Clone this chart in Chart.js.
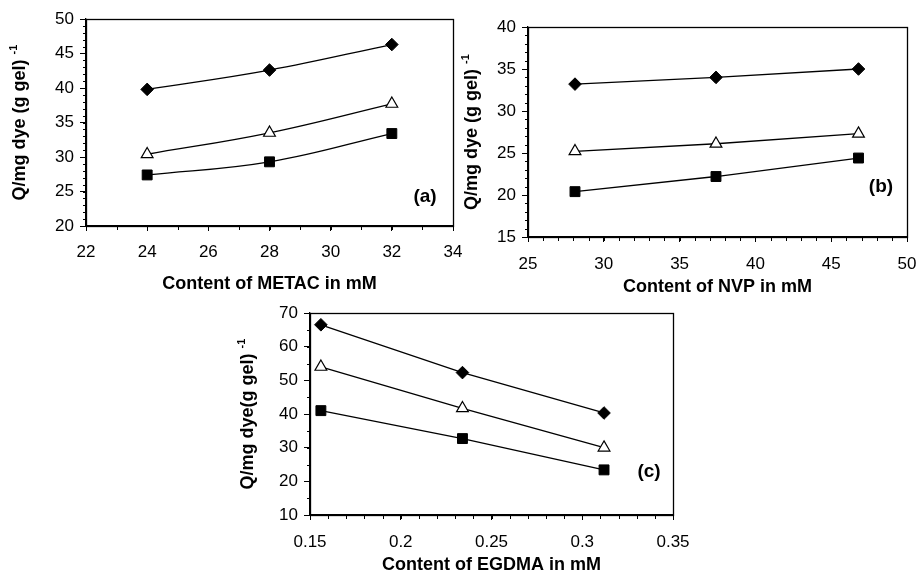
<!DOCTYPE html>
<html><head><meta charset="utf-8">
<script src="https://cdn.jsdelivr.net/npm/chart.js@4.4.1/dist/chart.umd.min.js"></script>
<style>
html,body{margin:0;padding:0;background:#fff;width:919px;height:572px;overflow:hidden;position:relative}
canvas{position:absolute}
</style></head><body>
<canvas id="ca" width="475" height="295" style="left:0;top:0"></canvas>
<canvas id="cb" width="490" height="295" style="left:460px;top:0"></canvas>
<canvas id="cc" width="545" height="282" style="left:180px;top:290px"></canvas>
<script>
// ---- data ----
const metacX = [24, 28, 32];
const metacDiamond = [39.8, 42.6, 46.3];
const metacTriangle = [30.4, 33.5, 37.7];
const metacSquare = [27.4, 29.3, 33.4];

const nvpX = [28.1, 37.4, 46.8];
const nvpDiamond = [33.2, 34.0, 35.0];
const nvpTriangle = [25.2, 26.1, 27.3];
const nvpSquare = [20.4, 22.2, 24.4];

const egdmaX = [0.156, 0.234, 0.312];
const egdmaDiamond = [66.5, 52.3, 40.3];
const egdmaTriangle = [54.0, 41.7, 30.0];
const egdmaSquare = [41.0, 32.7, 23.4];

// tick labels
const xTicksA = [22, 24, 26, 28, 30, 32, 34];
const yTicksA = [20, 25, 30, 35, 40, 45, 50];
const xTicksB = [25, 30, 35, 40, 45, 50];
const yTicksB = [15, 20, 25, 30, 35, 40];
const xTicksC = [0.15, 0.2, 0.25, 0.3, 0.35];
const yTicksC = [10, 20, 30, 40, 50, 60, 70];
// minor tick steps
const minorA = {x: 1, y: 1};
const minorB = {x: 1, y: 1};
const minorC = {x: 0.01, y: 5};

const FONT = '"Liberation Sans", Arial, Helvetica, sans-serif';

function pts(xs, ys) { return xs.map((x, i) => ({x: x, y: ys[i]})); }

function datasets(xs, d, t, s, tension) {
  const base = {borderColor: '#000', borderWidth: 1.3, tension: tension, showLine: true, fill: false};
  return [
    Object.assign({}, base, {data: pts(xs, d), pointStyle: 'rectRot', pointRadius: 6.3, pointBackgroundColor: '#000', pointBorderColor: '#000', pointBorderWidth: 1}),
    Object.assign({}, base, {data: pts(xs, t), pointStyle: 'triangle', pointRadius: 6.8, pointBackgroundColor: '#fff', pointBorderColor: '#000', pointBorderWidth: 1.2}),
    Object.assign({}, base, {data: pts(xs, s), pointStyle: 'rect', pointRadius: 7, pointBackgroundColor: '#000', pointBorderColor: '#000', pointBorderWidth: 1})
  ];
}

function fmt(v) { return String(Number(v.toFixed(4))); }

function panelPlugin(p) {
  return {
    id: 'panelDeco',
    afterDraw(chart) {
      const ctx = chart.ctx, a = chart.chartArea, xs = chart.scales.x, ys = chart.scales.y;
      ctx.save();
      ctx.strokeStyle = '#000';
      ctx.lineWidth = 1.3;
      const L = Math.round(a.left) + 0.5, R = Math.round(a.right) + 0.5, T = Math.round(a.top) + 0.5, B = Math.round(a.bottom) + 0.5;
      ctx.strokeRect(L, T, R - L, B - T);
      // minor ticks
      ctx.lineWidth = 1;
      ctx.beginPath();
      for (let v = xs.min; v <= xs.max + 1e-9; v += p.minor.x) {
        const px = Math.round(xs.getPixelForValue(v)) + 0.5;
        ctx.moveTo(px, B); ctx.lineTo(px, B + 3.5);
      }
      for (let v = ys.min; v <= ys.max + 1e-9; v += p.minor.y) {
        const py = Math.round(ys.getPixelForValue(v)) + 0.5;
        ctx.moveTo(L, py); ctx.lineTo(L - 3.5, py);
      }
      ctx.stroke();
      ctx.fillStyle = '#000';
      // x title
      ctx.font = 'bold 18px ' + FONT;
      ctx.textAlign = 'center';
      ctx.textBaseline = 'middle';
      ctx.fillText(p.xTitle, (a.left + a.right) / 2, a.bottom + p.xTitleOff);
      // y title (rotated, with superscript)
      ctx.save();
      ctx.translate(p.yTitleX, (a.top + a.bottom) / 2);
      ctx.rotate(-Math.PI / 2);
      ctx.font = 'bold 18px ' + FONT;
      const w1 = ctx.measureText(p.yTitle).width;
      ctx.font = 'bold 11px ' + FONT;
      const w2 = ctx.measureText(p.ySup).width;
      const start = -(w1 + w2) / 2;
      ctx.textAlign = 'left';
      ctx.font = 'bold 18px ' + FONT;
      ctx.fillText(p.yTitle, start, 0);
      ctx.font = 'bold 11px ' + FONT;
      ctx.fillText(p.ySup, start + w1, -6);
      ctx.restore();
      // panel label
      ctx.font = 'bold 19px ' + FONT;
      ctx.textAlign = 'center';
      ctx.fillText(p.label, a.right - p.labelDx, p.labelY);
      ctx.restore();
    }
  };
}

function makeChart(id, p) {
  new Chart(document.getElementById(id), {
    type: 'scatter',
    data: {datasets: p.datasets},
    options: {
      responsive: false,
      animation: false,
      events: [],
      layout: {padding: p.padding},
      plugins: {legend: {display: false}, tooltip: {enabled: false}},
      scales: {
        x: {
          type: 'linear', min: p.xMin, max: p.xMax,
          afterFit: s => { s.height = p.xHeight; },
          afterBuildTicks: s => { s.ticks = p.xTicks.map(v => ({value: v})); },
          grid: {drawOnChartArea: false, drawTicks: true, tickLength: 5, tickColor: '#000', tickWidth: 1},
          border: {display: true, color: '#000', width: 1.3},
          ticks: {color: '#000', font: {family: FONT, size: 17}, padding: p.xPad, autoSkip: false, maxRotation: 0, callback: v => fmt(v)}
        },
        y: {
          type: 'linear', min: p.yMin, max: p.yMax,
          afterFit: s => { s.width = p.yWidth; },
          afterBuildTicks: s => { s.ticks = p.yTicks.map(v => ({value: v})); },
          grid: {drawOnChartArea: false, drawTicks: true, tickLength: 6, tickColor: '#000', tickWidth: 1},
          border: {display: true, color: '#000', width: 1.3},
          ticks: {color: '#000', font: {family: FONT, size: 17}, padding: p.yPad, autoSkip: false, callback: v => fmt(v)}
        }
      }
    },
    plugins: [panelPlugin(p)]
  });
}

makeChart('ca', {
  datasets: datasets(metacX, metacDiamond, metacTriangle, metacSquare, 0.4),
  padding: {left: 0, top: 19, right: 22, bottom: 0},
  xHeight: 69, yWidth: 86, xPad: 11, yPad: 6,
  xMin: 22, xMax: 34, yMin: 20, yMax: 50,
  xTicks: xTicksA, yTicks: yTicksA, minor: minorA,
  xTitle: 'Content of METAC in mM', xTitleOff: 58,
  yTitle: 'Q/mg dye (g gel) ', ySup: '-1', yTitleX: 20,
  label: '(a)', labelDx: 28, labelY: 197
});
makeChart('cb', {
  datasets: datasets(nvpX, nvpDiamond, nvpTriangle, nvpSquare, 0),
  padding: {left: 0, top: 27, right: 43, bottom: 0},
  xHeight: 58, yWidth: 68, xPad: 12, yPad: 6,
  xMin: 25, xMax: 50, yMin: 15, yMax: 40,
  xTicks: xTicksB, yTicks: yTicksB, minor: minorB,
  xTitle: 'Content of NVP in mM', xTitleOff: 50,
  yTitle: 'Q/mg dye (g gel) ', ySup: '-1', yTitleX: 12,
  label: '(b)', labelDx: 26, labelY: 187
});
makeChart('cc', {
  datasets: datasets(egdmaX, egdmaDiamond, egdmaTriangle, egdmaSquare, 0),
  padding: {left: 0, top: 23, right: 52, bottom: 0},
  xHeight: 57, yWidth: 130, xPad: 12, yPad: 6,
  xMin: 0.15, xMax: 0.35, yMin: 10, yMax: 70,
  xTicks: xTicksC, yTicks: yTicksC, minor: minorC,
  xTitle: 'Content of EGDMA in mM', xTitleOff: 50,
  yTitle: 'Q/mg dye(g gel) ', ySup: '-1', yTitleX: 68,
  label: '(c)', labelDx: 24, labelY: 182
});
</script>
</body></html>
